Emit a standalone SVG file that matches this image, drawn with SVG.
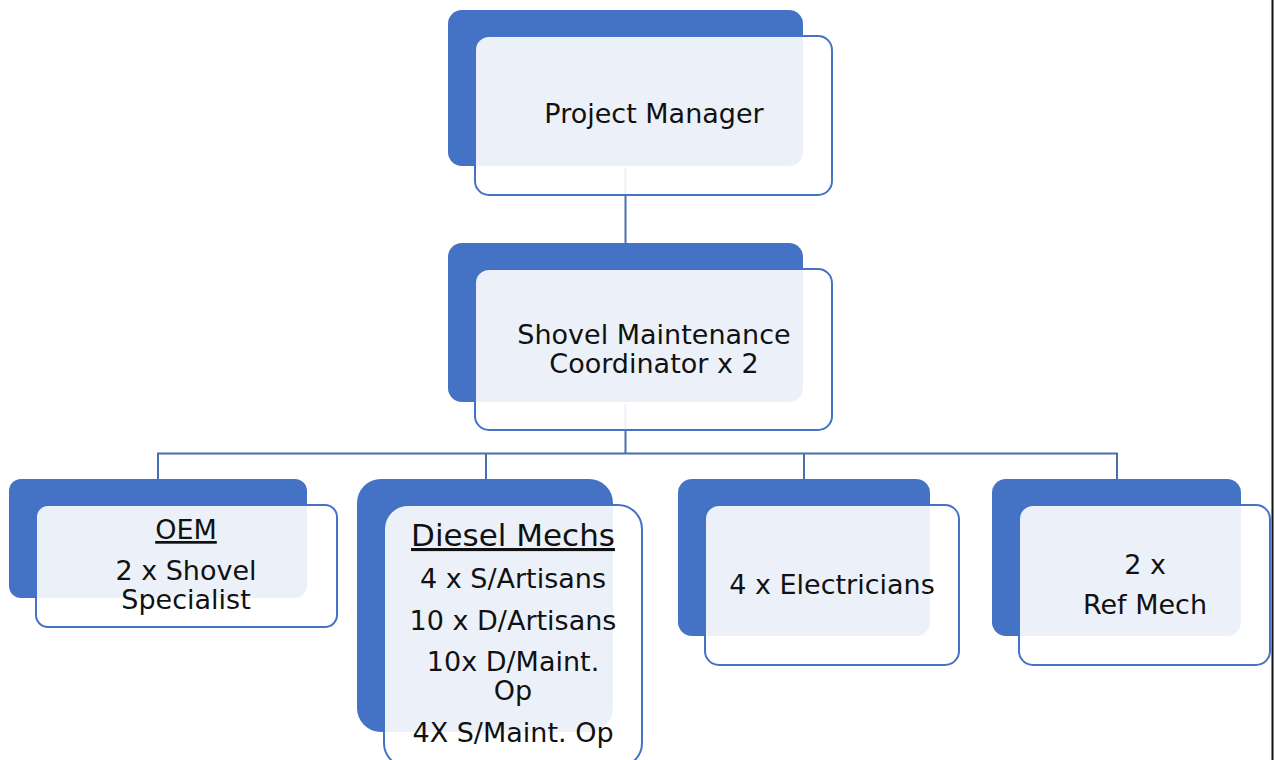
<svg xmlns="http://www.w3.org/2000/svg" width="1275" height="760" viewBox="0 0 1275 760">
  <style>
    .back { fill: #4472C4; }
    .front { fill: #FFFFFF; fill-opacity: 0.9; stroke: #4472C4; stroke-width: 2; }
    .conn { fill: none; stroke: #4A6FAE; stroke-width: 2; }
    .lbl { font-family: "DejaVu Sans", Verdana, sans-serif; font-size: 27px; fill: #111111; text-anchor: middle; }
    .ul { text-decoration: underline; }
  </style>
  <rect width="1275" height="760" fill="#FFFFFF"/>

  <!-- Backing blocks (drawn first so links sit above them) -->
  <g id="backs">
    <rect class="back" x="448" y="10" width="355" height="156" rx="14"/>
    <rect class="back" x="448" y="243" width="355" height="159" rx="14"/>
    <rect class="back" x="9" y="479" width="298" height="119" rx="12"/>
    <rect class="back" x="357" y="479" width="256" height="253" rx="24"/>
    <rect class="back" x="678" y="479" width="252" height="157" rx="14"/>
    <rect class="back" x="992" y="479" width="249" height="157" rx="14"/>
  </g>

  <!-- Reporting lines -->
  <g id="connectors">
    <path class="conn" d="M625.5 168 V243"/>
    <path class="conn" d="M625.5 404 V453.5 M158 479 V453.5 H1117 V479 M486 453.5 V479 M804 453.5 V479"/>
  </g>

  <g id="project-manager">
    <rect class="front" x="475" y="36" width="357" height="159" rx="14"/>
    <text class="lbl" x="654" y="123">Project Manager</text>
  </g>

  <g id="shovel-coordinator">
    <rect class="front" x="475" y="269" width="357" height="161" rx="14"/>
    <text class="lbl" x="654" y="344">Shovel Maintenance</text>
    <text class="lbl" x="654" y="373">Coordinator x 2</text>
  </g>

  <g id="oem">
    <rect class="front" x="36" y="505" width="301" height="122" rx="12"/>
    <text class="lbl ul" x="186" y="539">OEM</text>
    <text class="lbl" x="186" y="580">2 x Shovel</text>
    <text class="lbl" x="186" y="609">Specialist</text>
  </g>

  <g id="diesel-mechs">
    <rect class="front" x="384" y="505" width="258" height="262" rx="24"/>
    <text class="lbl ul" x="513" y="546" style="font-size:31px">Diesel Mechs</text>
    <text class="lbl" x="513" y="588">4 x S/Artisans</text>
    <text class="lbl" x="513" y="630">10 x D/Artisans</text>
    <text class="lbl" x="513" y="671">10x D/Maint.</text>
    <text class="lbl" x="513" y="700">Op</text>
    <text class="lbl" x="513" y="742">4X S/Maint. Op</text>
  </g>

  <g id="electricians">
    <rect class="front" x="705" y="505" width="254" height="160" rx="14"/>
    <text class="lbl" x="832" y="594">4 x Electricians</text>
  </g>

  <g id="ref-mech">
    <rect class="front" x="1019" y="505" width="251" height="160" rx="14"/>
    <text class="lbl" x="1145" y="574">2 x</text>
    <text class="lbl" x="1145" y="614">Ref Mech</text>
  </g>

  <!-- Page edge -->
  <line x1="1272.5" y1="0" x2="1272.5" y2="760" stroke="#111111" stroke-width="2"/>
</svg>
